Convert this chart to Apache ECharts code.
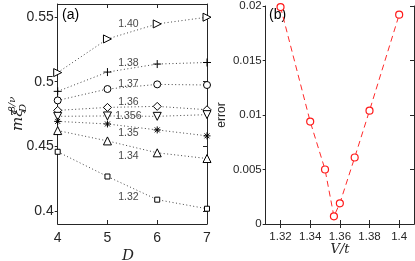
<!DOCTYPE html>
<html><head><meta charset="utf-8">
<script src="https://cdn.jsdelivr.net/npm/echarts@6/dist/echarts.min.js"></script>
<style>html,body{margin:0;padding:0;background:#fff}#c{width:415px;height:261px}</style>
</head><body><div id="c"></div>
<script>
// ---- data (panel a) ----
const D = [4, 5, 6, 7];
const seriesNames = ['1.40', '1.38', '1.37', '1.36', '1.356', '1.35', '1.34', '1.32'];
const v140  = [0.5070, 0.5330, 0.5446, 0.5498];
const v138  = [0.4925, 0.5074, 0.5136, 0.5148];
const v137  = [0.4855, 0.4943, 0.4979, 0.4974];
const v136  = [0.4778, 0.4801, 0.4809, 0.4783];
const v1356 = [0.4732, 0.4735, 0.4732, 0.4745];
const v135  = [0.4693, 0.4673, 0.4627, 0.4581];
const v134  = [0.4622, 0.4542, 0.4450, 0.4406];
const v132  = [0.4458, 0.4267, 0.4088, 0.4018];
// label anchors (data units) for the V/t annotations
const labelD = 5.42;
const labelY = [0.5446, 0.5146, 0.4984, 0.4845, 0.4730, 0.4606, 0.4425, 0.4106];
const yTicksA = [0.4, 0.45, 0.5, 0.55];
const xTicksA = [4, 5, 6, 7];
// ---- data (panel b) ----
const Vt  = [1.32, 1.34, 1.35, 1.356, 1.36, 1.37, 1.38, 1.40];
const err = [0.0199, 0.0094, 0.0050, 0.0007, 0.0019, 0.0061, 0.0104, 0.0192];
const xTicksB = [1.32, 1.34, 1.36, 1.38, 1.4];

const chart = echarts.init(document.getElementById('c'), null, {renderer: 'canvas'});
const FONT = 'Liberation Sans';
const AX = '#262626';
const allA = [v140, v138, v137, v136, v1356, v135, v134, v132];
const plus = 'path://M5,0L5,10M0,5L10,5';
const star = 'path://M5,0L5,10M0,5L10,5M1.5,1.5L8.5,8.5M1.5,8.5L8.5,1.5';
const sym = [
  {s: 'triangle', r: -90, z: 8},
  {s: plus, r: 0, z: 8},
  {s: 'circle', r: 0, z: 7},
  {s: 'diamond', r: 0, z: 8},
  {s: 'triangle', r: 180, z: 8},
  {s: star, r: 0, z: 7},
  {s: 'triangle', r: 0, z: 8},
  {s: 'rect', r: 0, z: 5}
];

const series = [];
allA.forEach((vals, i) => {
  const open = sym[i].s !== plus && sym[i].s !== star;
  series.push({
    type: 'line', xAxisIndex: 0, yAxisIndex: 0, name: seriesNames[i],
    data: D.map((d, k) => [d, vals[k]]),
    symbol: sym[i].s, symbolRotate: sym[i].r, symbolSize: sym[i].z,
    showSymbol: true,
    lineStyle: {color: '#444', width: 1, type: [1, 2.5]},
    itemStyle: {color: open ? '#fff' : '#000', borderColor: '#000', borderWidth: 1},
    emphasis: {disabled: true}, animation: false
  });
});
series.push({
  type: 'scatter', xAxisIndex: 0, yAxisIndex: 0,
  data: seriesNames.map((n, i) => ({name: n, value: [labelD, labelY[i]]})),
  symbolSize: 0,
  label: {show: true, position: 'inside', formatter: p => p.name, color: '#111',
          fontFamily: FONT, fontSize: 10.5},
  silent: true, animation: false
});
series.push({
  type: 'line', xAxisIndex: 2, yAxisIndex: 2,
  data: Vt.map((v, k) => [v, err[k]]),
  symbol: 'circle', symbolSize: 7, showSymbol: true,
  lineStyle: {color: '#ff2a2a', width: 1, type: [6, 4]},
  itemStyle: {color: '#fff', borderColor: '#ff1a1a', borderWidth: 1.2},
  emphasis: {disabled: true}, animation: false
});

function xAx(grid, min, max, ticks, pos, labels, name, nameFs) {
  return {
    type: 'value', gridIndex: grid, min: min, max: max, position: pos,
    axisLine: {show: true, lineStyle: {color: AX, width: 1}},
    axisTick: {show: true, inside: true, length: 4, customValues: ticks, lineStyle: {color: AX}},
    axisLabel: {show: labels, customValues: ticks, color: AX, fontFamily: FONT,
                fontSize: grid === 0 ? 14 : 11.5, margin: 7},
    splitLine: {show: false}
  };
}
function yAx(grid, min, max, ticks, pos, labels, interval) {
  const o = {
    type: 'value', gridIndex: grid, min: min, max: max, position: pos,
    axisLine: {show: true, lineStyle: {color: AX, width: 1}},
    axisTick: {show: true, inside: pos === 'right', length: pos === 'right' ? 4 : 3, lineStyle: {color: AX}},
    axisLabel: {show: labels, color: AX, fontFamily: FONT, fontSize: grid === 0 ? 14 : 11.5, margin: 4},
    splitLine: {show: false}
  };
  if (ticks) { o.axisTick.customValues = ticks; o.axisLabel.customValues = ticks; }
  if (interval) o.interval = interval;
  return o;
}

const xA = [
  xAx(0, 4, 7, xTicksA, 'bottom', true),
  xAx(0, 4, 7, xTicksA, 'top', false),
  xAx(1, 1.31, 1.41, xTicksB, 'bottom', true),
  xAx(1, 1.31, 1.41, xTicksB, 'top', false)
];
const yA = [
  yAx(0, 0.39, 0.56, yTicksA, 'left', true),
  yAx(0, 0.39, 0.56, yTicksA, 'right', false),
  yAx(1, 0, 0.02, null, 'left', true, 0.005),
  yAx(1, 0, 0.02, null, 'right', false, 0.005)
];
yA[2].name = 'error';
yA[2].nameLocation = 'middle';
yA[2].nameRotate = 90;
yA[2].nameGap = 38;
yA[2].nameTextStyle = {color: AX, fontFamily: FONT, fontSize: 12};

chart.setOption({
  animation: false,
  grid: [
    {left: 57.7, top: 4, width: 149.3, height: 220},
    {left: 265.7, top: 4, width: 148.3, height: 220}
  ],
  xAxis: xA,
  yAxis: yA,
  series: series,
  graphic: [
    {type: 'text', left: 62, top: 8, style: {text: '(a)', fontFamily: FONT, fontSize: 14, fill: '#000'}},
    {type: 'text', left: 269, top: 8, style: {text: '(b)', fontFamily: FONT, fontSize: 14, fill: '#000'}},
    {type: 'text', x: 128, y: 256, style: {text: 'D', fontFamily: 'DejaVu Serif', fontStyle: 'italic',
      fontSize: 15, fill: '#222', align: 'center', verticalAlign: 'middle'}},
    {type: 'text', x: 340, y: 250, style: {text: 'V/t', fontFamily: 'DejaVu Serif', fontStyle: 'italic',
      fontSize: 13, fill: '#222', align: 'center', verticalAlign: 'middle'}},
    {type: 'group', x: 18, y: 114, rotation: Math.PI / 2, children: [
      {type: 'text', x: -17, y: 0, style: {text: 'mξ', fontFamily: 'DejaVu Serif', fontStyle: 'italic',
        fontSize: 15, fill: '#222', align: 'left', verticalAlign: 'middle'}},
      {type: 'text', x: 2, y: -6, style: {text: 'β/ν', fontFamily: 'DejaVu Serif', fontStyle: 'italic',
        fontSize: 10, fill: '#222', align: 'left', verticalAlign: 'middle'}},
      {type: 'text', x: 2, y: 5, style: {text: 'D', fontFamily: 'DejaVu Serif', fontStyle: 'italic',
        fontSize: 10, fill: '#222', align: 'left', verticalAlign: 'middle'}}
    ]}
  ]
});
</script></body></html>
